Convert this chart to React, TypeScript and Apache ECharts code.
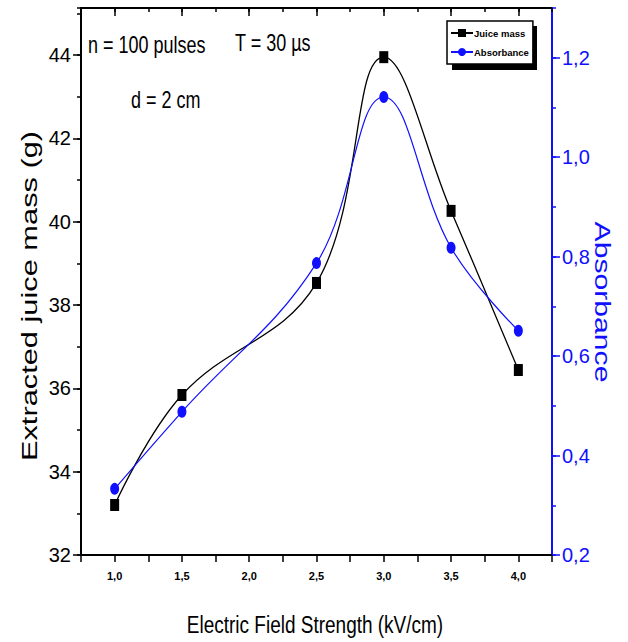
import React, { useEffect, useRef } from "react";
import * as echarts from "echarts";

const fieldStrength = [1.0, 1.5, 2.5, 3.0, 3.5, 4.0];
const juiceMass = [33.2, 35.84, 38.53, 43.95, 40.26, 36.44];
const absorbance = [0.333, 0.488, 0.787, 1.121, 0.818, 0.651];
const xMajorTicks = [1.0, 1.5, 2.0, 2.5, 3.0, 3.5, 4.0];
const leftMajorTicks = [32, 34, 36, 38, 40, 42, 44];
const rightMajorTicks = [0.2, 0.4, 0.6, 0.8, 1.0, 1.2];

const BLUE = "#1010ff";
const NARROW = "'Liberation Sans Narrow', 'Arial Narrow', 'Liberation Sans', Arial, sans-serif";
const SANS = "'Liberation Sans', Arial, sans-serif";

export default function App() {
  const ref = useRef<HTMLDivElement>(null);
  useEffect(() => {
    document.body.style.margin = "0";
    if (!ref.current) return;
    const chart = echarts.init(ref.current, undefined, { renderer: "svg" });
    const isMajorX = (v: number) => Math.abs(v * 2 - Math.round(v * 2)) < 1e-6 && v >= 0.99 && v <= 4.01;
    const option: any = {
      animation: false,
      backgroundColor: "#fff",
      grid: { left: 81, right: 76, top: 8, bottom: 87 },
      legend: {
        orient: "vertical",
        left: 447,
        top: 21,
        padding: [7, 4, 7, 3],
        itemGap: 9,
        itemWidth: 22,
        itemHeight: 10,
        backgroundColor: "#fff",
        borderColor: "#000",
        borderWidth: 1.5,
        borderRadius: 0,
        z: 10,
        textStyle: { fontSize: 9.5, fontFamily: NARROW, fontWeight: "bold", color: "#000", padding: [0, 0, 0, -4] },
        data: ["Juice mass", "Absorbance"],
      },
      xAxis: [
        {
          type: "value",
          min: 0.75,
          max: 4.25,
          interval: 0.25,
          position: "bottom",
          axisLine: { show: true, onZero: false, lineStyle: { color: "#000", width: 2 } },
          axisTick: { show: true, length: 7, lineStyle: { color: "#000", width: 1.5 } },
          axisLabel: {
            margin: 15,
            fontSize: 11,
            fontFamily: NARROW,
            fontWeight: "bold",
            color: "#000",
            formatter: (v: number) => (isMajorX(v) ? v.toFixed(1).replace(".", ",") : ""),
          },
          splitLine: { show: false },
        },
        {
          type: "value",
          min: 0.75,
          max: 4.25,
          interval: 0.25,
          position: "top",
          axisLine: { show: true, onZero: false, lineStyle: { color: "#000", width: 2 } },
          axisTick: { show: true, inside: true, length: 4, lineStyle: { color: "#000", width: 1.5 } },
          axisLabel: { show: false },
          splitLine: { show: false },
        },
        {
          type: "value",
          min: 0.75,
          max: 4.25,
          position: "top",
          axisLine: { show: false, onZero: false },
          axisTick: { show: true, inside: true, length: 8, customValues: xMajorTicks, lineStyle: { color: "#000", width: 1.5 } },
          axisLabel: { show: false },
          splitLine: { show: false },
        },
      ],
      yAxis: [
        {
          type: "value",
          min: 32,
          max: 45.13,
          interval: 1,
          position: "left",
          axisLine: { show: true, onZero: false, lineStyle: { color: "#000", width: 2 } },
          axisTick: { show: true, length: 4, lineStyle: { color: "#000", width: 1.5 } },
          axisLabel: {
            margin: 10,
            fontSize: 20,
            fontFamily: NARROW,
            color: "#000",
            formatter: (v: number) => (Math.abs(v % 2) < 1e-6 && v <= 44 ? String(v) : ""),
          },
          splitLine: { show: false },
        },
        {
          type: "value",
          min: 0.2,
          max: 1.3,
          interval: 0.1,
          position: "right",
          axisLine: { show: true, onZero: false, lineStyle: { color: BLUE, width: 2 } },
          axisTick: { show: true, length: 4, lineStyle: { color: BLUE, width: 1.5 } },
          axisLabel: {
            margin: 10,
            fontSize: 20,
            fontFamily: NARROW,
            color: BLUE,
            formatter: (v: number) => {
              const k = Math.round(v * 10);
              return k % 2 === 0 && k <= 12 ? (k / 10).toFixed(1).replace(".", ",") : "";
            },
          },
          splitLine: { show: false },
        },
        {
          type: "value",
          min: 32,
          max: 45.13,
          position: "left",
          axisLine: { show: false, onZero: false },
          axisTick: { show: true, length: 8, customValues: leftMajorTicks, lineStyle: { color: "#000", width: 1.5 } },
          axisLabel: { show: false },
          splitLine: { show: false },
        },
        {
          type: "value",
          min: 0.2,
          max: 1.3,
          position: "right",
          axisLine: { show: false, onZero: false },
          axisTick: { show: true, length: 8, customValues: rightMajorTicks, lineStyle: { color: BLUE, width: 1.5 } },
          axisLabel: { show: false },
          splitLine: { show: false },
        },
      ],
      series: [
        {
          name: "Juice mass",
          type: "line",
          xAxisIndex: 0,
          yAxisIndex: 0,
          smooth: 0.4,
          data: fieldStrength.map((x, i) => [x, juiceMass[i]]),
          symbol: "rect",
          symbolSize: [9, 12],
          itemStyle: { color: "#000" },
          lineStyle: { color: "#000", width: 1.3 },
          z: 3,
        },
        {
          name: "Absorbance",
          type: "line",
          xAxisIndex: 0,
          yAxisIndex: 1,
          smooth: 0.4,
          data: fieldStrength.map((x, i) => [x, absorbance[i]]),
          symbol: "circle",
          symbolSize: [9, 12],
          itemStyle: { color: BLUE },
          lineStyle: { color: BLUE, width: 1.2 },
          z: 4,
        },
      ],
      graphic: [
        {
          type: "rect",
          z: 5,
          shape: { x: 452, y: 26, width: 85, height: 44 },
          style: { fill: "#000" },
        },
        {
          type: "text",
          x: 88,
          y: 45,
          scaleY: 1.3,
          style: { text: "n = 100 pulses", font: `18px ${SANS}`, fill: "#000", textAlign: "left", textVerticalAlign: "middle" },
        },
        {
          type: "text",
          x: 235,
          y: 43,
          scaleY: 1.3,
          style: { text: "T = 30 µs", font: `18px ${SANS}`, fill: "#000", textAlign: "left", textVerticalAlign: "middle" },
        },
        {
          type: "text",
          x: 131,
          y: 100,
          scaleY: 1.3,
          style: { text: "d = 2 cm", font: `18px ${SANS}`, fill: "#000", textAlign: "left", textVerticalAlign: "middle" },
        },
        {
          type: "text",
          x: 30,
          y: 296,
          rotation: Math.PI / 2,
          scaleX: 1.4,
          style: { text: "Extracted juice mass (g)", font: `22px ${SANS}`, fill: "#000", textAlign: "center", textVerticalAlign: "middle" },
        },
        {
          type: "text",
          x: 603,
          y: 302,
          rotation: -Math.PI / 2,
          scaleX: 1.37,
          style: { text: "Absorbance", font: `22px ${SANS}`, fill: BLUE, textAlign: "center", textVerticalAlign: "middle" },
        },
        {
          type: "text",
          x: 315,
          y: 625,
          scaleY: 1.3,
          style: { text: "Electric Field Strength (kV/cm)", font: `19px ${SANS}`, fill: "#000", textAlign: "center", textVerticalAlign: "middle" },
        },
      ],
    };
    chart.setOption(option);
    return () => chart.dispose();
  }, []);
  return <div ref={ref} style={{ width: 628, height: 642 }} />;
}
